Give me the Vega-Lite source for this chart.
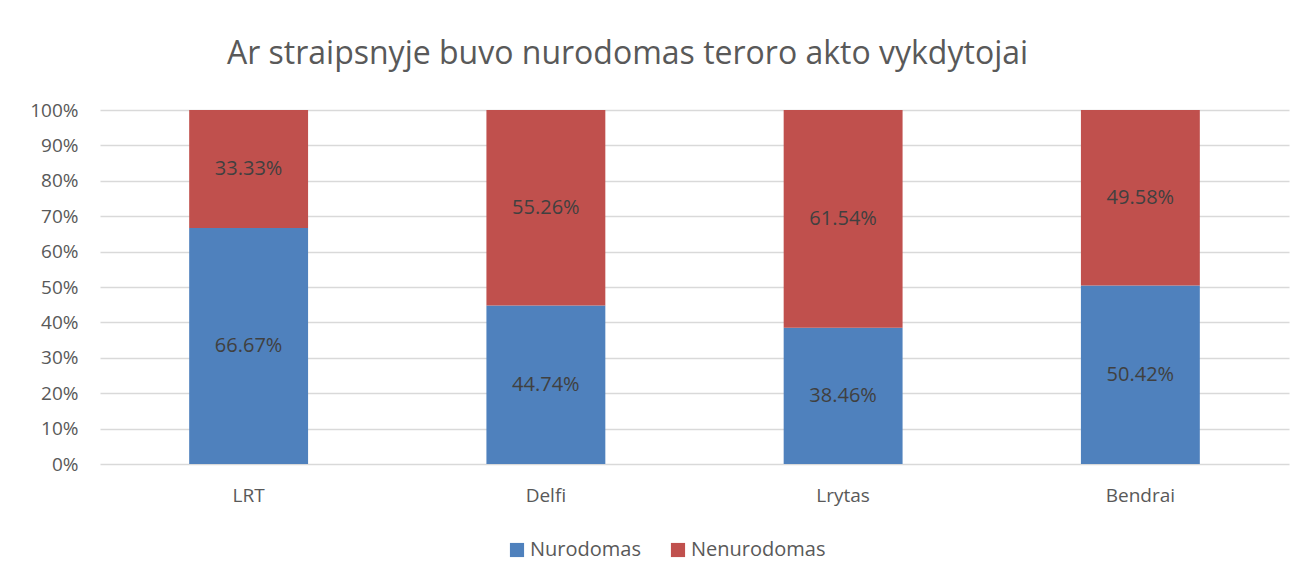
{
  "$schema": "https://vega.github.io/schema/vega-lite/v6.json",
  "width": 1189,
  "height": 354,
  "autosize": {"type": "none"},
  "padding": {"left": 100, "top": 110, "right": 20, "bottom": 117},
  "background": "white",
  "title": {
    "text": "Ar straipsnyje buvo nurodomas teroro akto vykdytojai",
    "font": "Open Sans",
    "fontSize": 32,
    "fontWeight": "normal",
    "color": "#595959",
    "anchor": "middle",
    "offset": 30,
    "dx": -67
  },
  "config": {
    "view": {"stroke": null},
    "font": "Open Sans",
    "axisY": {"title": null, "values": [0, 0.1, 0.2, 0.3, 0.4, 0.5, 0.6, 0.7, 0.8, 0.9, 1], "format": ".0%", "labelFontSize": 19, "labelColor": "#595959", "labelPadding": 22, "ticks": false, "domain": false, "gridColor": "#d9d9d9", "gridWidth": 1.5, "labelFont": "Open Sans", "labelOverlap": false}
  },
  "data": {
    "values": [
      {"source": "LRT", "series": "Nurodomas", "value": 0.6667},
      {"source": "LRT", "series": "Nenurodomas", "value": 0.3333},
      {"source": "Delfi", "series": "Nurodomas", "value": 0.4474},
      {"source": "Delfi", "series": "Nenurodomas", "value": 0.5526},
      {"source": "Lrytas", "series": "Nurodomas", "value": 0.3846},
      {"source": "Lrytas", "series": "Nenurodomas", "value": 0.6154},
      {"source": "Bendrai", "series": "Nurodomas", "value": 0.5042},
      {"source": "Bendrai", "series": "Nenurodomas", "value": 0.4958}
    ]
  },
  "transform": [
    {"stack": "value", "groupby": ["source"], "sort": [{"field": "series", "order": "descending"}], "as": ["v0", "v1"]}
  ],
  "encoding": {
    "x": {
      "field": "source", "type": "nominal",
      "sort": ["LRT", "Delfi", "Lrytas", "Bendrai"],
      "scale": {"paddingInner": 0.6, "paddingOuter": 0.3},
      "axis": {"title": null, "labelAngle": 0, "labelFontSize": 19, "labelColor": "#595959", "labelPadding": 22, "ticks": false, "domain": false, "labelFont": "Open Sans"}
    }
  },
  "layer": [
    {
      "mark": {"type": "bar"},
      "encoding": {
        "y": {
          "field": "v0", "type": "quantitative",
          "scale": {"domain": [0, 1], "nice": false},
          "axis": {"title": null, "values": [0, 0.1, 0.2, 0.3, 0.4, 0.5, 0.6, 0.7, 0.8, 0.9, 1], "format": ".0%"}
        },
        "y2": {"field": "v1"},
        "color": {
          "field": "series", "type": "nominal",
          "scale": {"domain": ["Nurodomas", "Nenurodomas"], "range": ["#4F81BD", "#C0504D"]},
          "legend": {
            "title": null, "orient": "none", "direction": "horizontal",
            "legendX": 407, "legendY": 430,
            "symbolType": "square", "symbolSize": 200, "symbolStrokeWidth": 0, "symbolOpacity": 1,
            "labelFontSize": 20, "labelColor": "#595959", "labelFont": "Open Sans",
            "columnPadding": 27, "labelOffset": 3
          }
        }
      }
    },
    {
      "transform": [
        {"fold": ["v0", "v1"], "as": ["k", "pos"]},
        {"aggregate": [{"op": "mean", "field": "pos", "as": "mid"}], "groupby": ["source", "series", "value"]}
      ],
      "mark": {"type": "text", "fontSize": 20, "color": "#404040", "font": "Open Sans", "baseline": "middle"},
      "encoding": {
        "y": {"field": "mid", "type": "quantitative", "axis": {"title": null, "values": [0, 0.1, 0.2, 0.3, 0.4, 0.5, 0.6, 0.7, 0.8, 0.9, 1], "format": ".0%"}},
        "text": {"field": "value", "type": "quantitative", "format": ".2%"}
      }
    }
  ]
}
